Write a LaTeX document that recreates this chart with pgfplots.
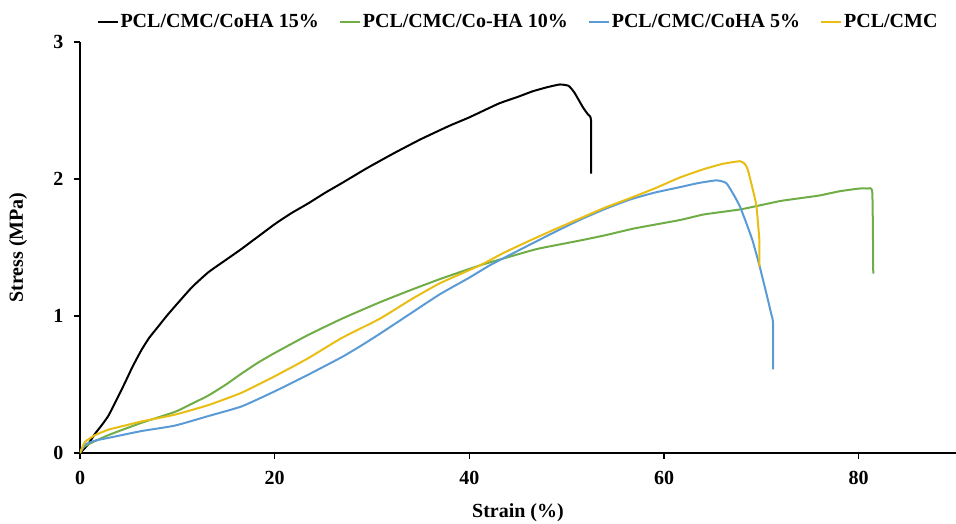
\documentclass[border=0pt]{standalone}
\usepackage{pgfplots}
\pgfplotsset{compat=1.18}
\usepackage{fontspec}
\setmainfont{Liberation Serif}
\definecolor{cgreen}{RGB}{112,173,71}
\definecolor{cblue}{RGB}{91,155,213}
\definecolor{cyellow}{RGB}{232,190,20}
\begin{document}
\begin{tikzpicture}
\useasboundingbox (-80pt,-70pt) rectangle (876pt,453pt);
\begin{axis}[
  at={(0,0)}, anchor=south west,
  scale only axis, width=876pt, height=411pt,
  xmin=0, xmax=90, ymin=0, ymax=3,
  axis lines*=left,
  axis line style={line width=1.3pt},
  xtick={0,20,40,60,80}, ytick={0,1,2,3},
  tick align=outside, major tick length=6pt,
  tick style={line width=1.3pt, black},
  /pgf/number format/assume math mode=true,
  ticklabel style={font=\fontsize{20}{24}\selectfont\bfseries},
  xticklabel style={yshift=-9pt},
  yticklabel style={xshift=-7pt},
  xlabel={Strain (\%)}, ylabel={Stress (MPa)},
  label style={font=\fontsize{20}{24}\selectfont\bfseries},
  xlabel style={at={(axis description cs:0.5,-0.146)}, anchor=center},
  ylabel style={at={(axis description cs:-0.0708,0.5)}, anchor=center},
  legend columns=4,
  legend style={at={(axis description cs:0.5,1)}, anchor=center, yshift=20pt,
    draw=none, fill=none, font=\fontsize{20}{24}\selectfont\bfseries,
    /tikz/every even column/.append style={column sep=18pt},
    inner sep=0pt},
  legend image code/.code={\draw[#1] (0pt,0pt) -- (20pt,0pt);},
  every axis plot/.append style={line width=2pt, line join=round, smooth, tension=0.3},
]
\addplot[black] coordinates {
(0,0) (0.8,0.06) (1.54,0.14) (2.2,0.2) (2.9,0.27) (3.7,0.38) (4.6,0.51) (5.4,0.63) (6.3,0.75) (7.1,0.84) (8.0,0.92) (8.9,1.0) (9.75,1.07) (11.5,1.21) (13.2,1.32) (15,1.41) (16.6,1.49) (18.3,1.58) (20,1.67) (21.7,1.75) (23.4,1.82) (25.2,1.9) (26.9,1.97) (29.5,2.08) (32.3,2.19) (35,2.29) (38,2.39) (40,2.45) (43,2.55) (45,2.60) (46.5,2.64) (48,2.67) (49.3,2.69) (50.2,2.68) (50.8,2.63) (51.7,2.52) (52.2,2.47) (52.5,2.43) (52.5,2.04)
};
\addlegendentry{PCL/CMC/CoHA 15\%}
\addplot[cgreen] coordinates {
(0,0) (0.5,0.05) (2.9,0.13) (6.3,0.22) (9.75,0.30) (11.5,0.36) (13.2,0.42) (15,0.50) (16.6,0.58) (18.3,0.66) (20,0.73) (23.4,0.86) (26.9,0.98) (30.8,1.10) (34,1.19) (37,1.27) (41.1,1.37) (44,1.43) (47,1.49) (51.3,1.55) (54,1.59) (57,1.64) (61.6,1.70) (64,1.74) (66,1.76) (68,1.78) (70,1.81) (72,1.84) (74,1.86) (76,1.88) (78,1.91) (80,1.93) (80.9,1.93) (81.4,1.90) (81.5,1.31)
};
\addlegendentry{PCL/CMC/Co-HA 10\%}
\addplot[cblue] coordinates {
(0,0) (0.5,0.06) (1.54,0.09) (2.9,0.11) (6.3,0.16) (9.75,0.20) (13.2,0.27) (16.6,0.34) (20,0.45) (23.4,0.57) (26.9,0.70) (28.8,0.78) (30.8,0.87) (34,1.02) (37,1.16) (40,1.28) (42.1,1.37) (44,1.44) (46.2,1.52) (48.7,1.61) (51.3,1.70) (53.9,1.78) (56.5,1.85) (59,1.90) (61.6,1.94) (63.5,1.97) (65.4,1.99) (66.4,1.97) (67.2,1.88) (67.8,1.80) (68.5,1.67) (69.1,1.55) (69.8,1.37) (70.5,1.17) (71.0,1.02) (71.2,0.95) (71.2,0.61)
};
\addlegendentry{PCL/CMC/CoHA 5\%}
\addplot[cyellow] coordinates {
(0,0) (0.5,0.08) (1.54,0.13) (2.9,0.17) (4.6,0.20) (6.3,0.23) (9.75,0.28) (13.2,0.35) (16.6,0.44) (20,0.56) (23.4,0.69) (26.9,0.84) (30.8,0.98) (34,1.12) (37,1.24) (41.1,1.37) (43.5,1.46) (46.2,1.55) (48.7,1.63) (51.3,1.71) (53.9,1.79) (56.5,1.86) (59,1.93) (61.6,2.01) (64,2.07) (66,2.11) (67.8,2.13) (68.3,2.11) (68.6,2.07) (69.2,1.90) (69.5,1.80) (69.8,1.55) (69.8,1.36)
};
\addlegendentry{PCL/CMC}
\end{axis}
\end{tikzpicture}
\end{document}
